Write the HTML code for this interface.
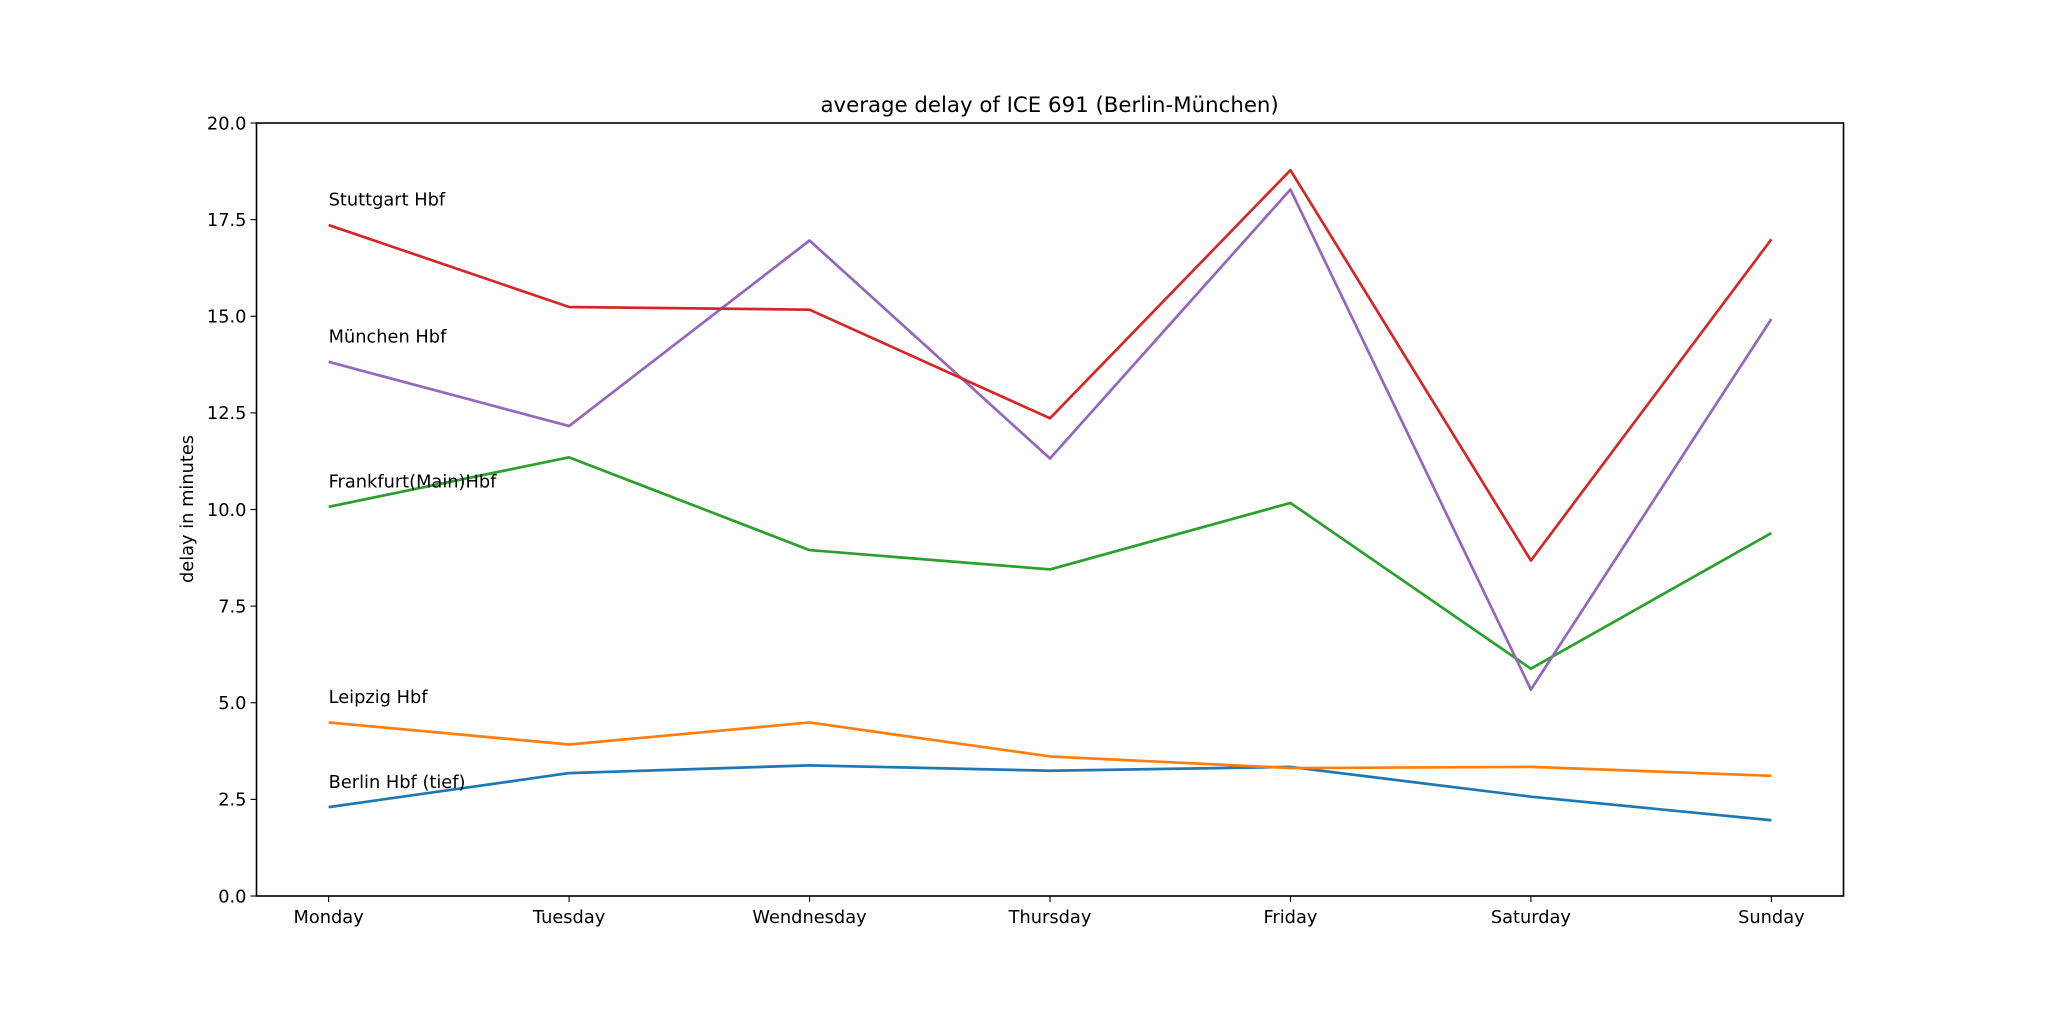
<!DOCTYPE html>
<html><head><meta charset="utf-8"><style>
body{margin:0;background:#fff}
svg text{font-family:"DejaVu Sans","Liberation Sans",sans-serif;fill:#000}
</style></head><body>
<svg id="chart" width="2048" height="1024" viewBox="0 0 2048 1024" xmlns="http://www.w3.org/2000/svg">
<rect width="2048" height="1024" fill="#fff"/>
<text x="1049.6" y="112" font-size="21.3" text-anchor="middle">average delay of ICE 691 (Berlin-München)</text>
<text x="0" y="0" font-size="17.8" text-anchor="middle" transform="translate(193,509) rotate(-90)">delay in minutes</text>
<g id="marks"></g>
<rect x="256.5" y="123" width="1587" height="773" fill="none" stroke="#000" stroke-width="1.6"/>
<g id="axes"></g>
</svg>
<script>
const days = ["Monday","Tuesday","Wendnesday","Thursday","Friday","Saturday","Sunday"];
const yTicks = [0,2.5,5,7.5,10,12.5,15,17.5,20];
const seriesNames = ["Berlin Hbf (tief)","Leipzig Hbf","Frankfurt(Main)Hbf","München Hbf","Stuttgart Hbf"];
const berlin = [2.30,3.18,3.38,3.24,3.34,2.57,1.96];
const leipzig = [4.49,3.92,4.49,3.61,3.31,3.34,3.11];
const frankfurt = [10.07,11.35,8.95,8.45,10.17,5.88,9.39];
const muenchen = [13.82,12.16,16.96,11.32,18.28,5.34,14.93];
const stuttgart = [17.36,15.24,15.17,12.36,18.78,8.68,16.99];
const seriesColors = ["#1f77b4","#ff7f0e","#2ca02c","#9467bd","#d62728"];
const series = [berlin,leipzig,frankfurt,muenchen,stuttgart];

const L=256.5,R=1843.5,T=123,B=896;
const xs=i=>L+(i+0.3)/6.6*(R-L);
const ys=v=>B-v/20*(B-T);
const NS="http://www.w3.org/2000/svg";
const marks=document.getElementById('marks'), axes=document.getElementById('axes');
function mk(tag,attrs,parent){const e=document.createElementNS(NS,tag);for(const k in attrs)e.setAttribute(k,attrs[k]);parent.appendChild(e);return e;}
series.forEach((s,si)=>{
  const p=mk('polyline',{points:s.map((v,i)=>xs(i)+','+ys(v)).join(' '),fill:'none',stroke:seriesColors[si],'stroke-width':2.7,'stroke-linejoin':'round'},marks);
  
  
  const t=mk('text',{x:xs(0),y:ys(s[0]+0.5),'font-size':17.8},marks);
  t.textContent=seriesNames[si];
  
  
});
days.forEach((d,i)=>{
  const l=mk('line',{x1:xs(i),x2:xs(i),y1:B,y2:B+6,stroke:'#000','stroke-width':1.1},axes);
  
  
  const t=mk('text',{x:xs(i),y:B+27,'font-size':17.8,'text-anchor':'middle'},axes);
  t.textContent=d;
  
  
});
yTicks.forEach(v=>{
  const l=mk('line',{x1:L-6,x2:L,y1:ys(v),y2:ys(v),stroke:'#000','stroke-width':1.1},axes);
  
  
  const t=mk('text',{x:L-10,y:ys(v)+6.3,'font-size':17.8,'text-anchor':'end'},axes);
  t.textContent=v.toFixed(1);
  
  
});
</script>
</body></html>
